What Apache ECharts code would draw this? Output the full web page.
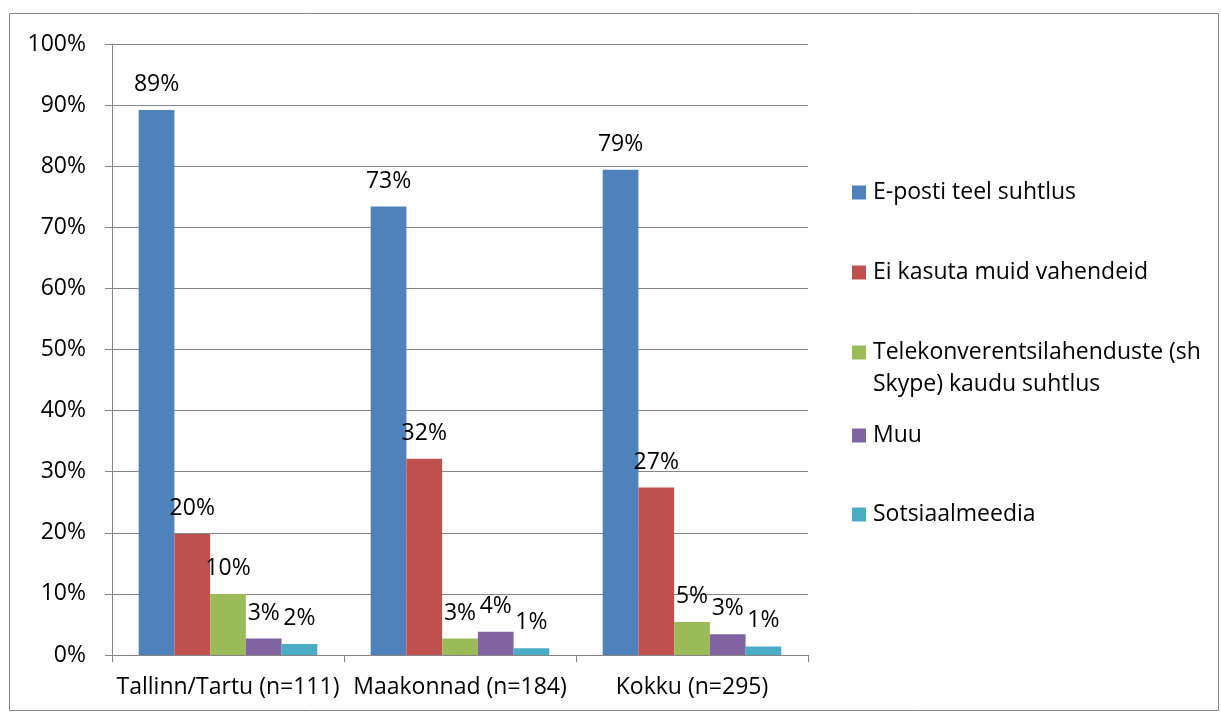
<!DOCTYPE html>
<html>
<head>
<meta charset="utf-8">
<script src="https://cdn.jsdelivr.net/npm/echarts@6/dist/echarts.min.js"></script>
<style>
html,body{margin:0;padding:0;background:#fff;}
#chart{width:1221px;height:713px;}
</style>
</head>
<body>
<div id="chart"></div>
<script>
var categories = ['Tallinn/Tartu (n=111)', 'Maakonnad (n=184)', 'Kokku (n=295)'];
var seriesNames = ['E-posti teel suhtlus', 'Ei kasuta muid vahendeid', 'Telekonverentsilahenduste (sh Skype) kaudu suhtlus', 'Muu', 'Sotsiaalmeedia'];
var ePosti = [89.2, 73.4, 79.4];
var eiKasuta = [19.8, 32.1, 27.4];
var telekonverents = [10.0, 2.7, 5.4];
var muu = [2.7, 3.8, 3.4];
var sotsiaal = [1.8, 1.1, 1.4];
var yTicks = [0, 10, 20, 30, 40, 50, 60, 70, 80, 90, 100];
var colors = ['#4f81bd', '#c0504d', '#9bbb59', '#8064a2', '#4bacc6'];
var valuesList = [ePosti, eiKasuta, telekonverents, muu, sotsiaal];

var FONT = '"Open Sans"';
var FS = 23;
var chart = echarts.init(document.getElementById('chart'));

var series = seriesNames.map(function (n, i) {
  return {
    name: n,
    type: 'bar',
    data: valuesList[i],
    barGap: '0%',
    barCategoryGap: '23%',
    itemStyle: { color: colors[i] },
    label: {
      show: true,
      position: 'top',
      distance: 14,
      color: '#000',
      fontFamily: FONT,
      fontSize: FS,
      formatter: function (p) { return Math.round(p.value) + '%'; }
    }
  };
});

var legendTops = [181, 261, 341, 424, 503];
var legends = seriesNames.map(function (n, i) {
  return {
    data: [n],
    left: 852,
    top: legendTops[i],
    orient: 'vertical',
    icon: 'rect',
    itemWidth: 14,
    itemHeight: 14,
    itemGap: 0,
    padding: 0,
    selectedMode: false,
    textStyle: { color: '#000', fontFamily: FONT, fontSize: FS, padding: [0, 0, 0, 2] },
    formatter: function (name) {
      return name === seriesNames[2] ? 'Telekonverentsilahenduste (sh' : name;
    }
  };
});

chart.setOption({
  animation: false,
  backgroundColor: '#fff',
  color: colors,
  grid: { left: 112, right: 413, top: 44, bottom: 58 },
  legend: legends,
  graphic: [
    { type: 'rect', shape: { x: 9.5, y: 13.5, width: 1209, height: 697 }, style: { fill: 'none', stroke: '#868686', lineWidth: 1 }, silent: true },
    { type: 'text', left: 873, top: 373, style: { text: 'Skype) kaudu suhtlus', fill: '#000', font: FS + 'px ' + FONT } }
  ],
  xAxis: {
    type: 'category',
    data: categories,
    axisLine: { lineStyle: { color: '#868686', width: 1 } },
    axisTick: { show: true, interval: 0, length: 7, lineStyle: { color: '#868686' } },
    axisLabel: { color: '#000', fontFamily: FONT, fontSize: FS, margin: 21, interval: 0, hideOverlap: false }
  },
  yAxis: {
    type: 'value',
    min: yTicks[0],
    max: yTicks[yTicks.length - 1],
    interval: 10,
    axisLine: { show: true, lineStyle: { color: '#868686', width: 1 } },
    axisTick: { show: true, length: 7, lineStyle: { color: '#868686' } },
    splitLine: { show: true, lineStyle: { color: '#868686', width: 1 } },
    axisLabel: { color: '#000', fontFamily: FONT, fontSize: FS, margin: 26, formatter: '{value}%' }
  },
  series: series
});
</script>
</body>
</html>
